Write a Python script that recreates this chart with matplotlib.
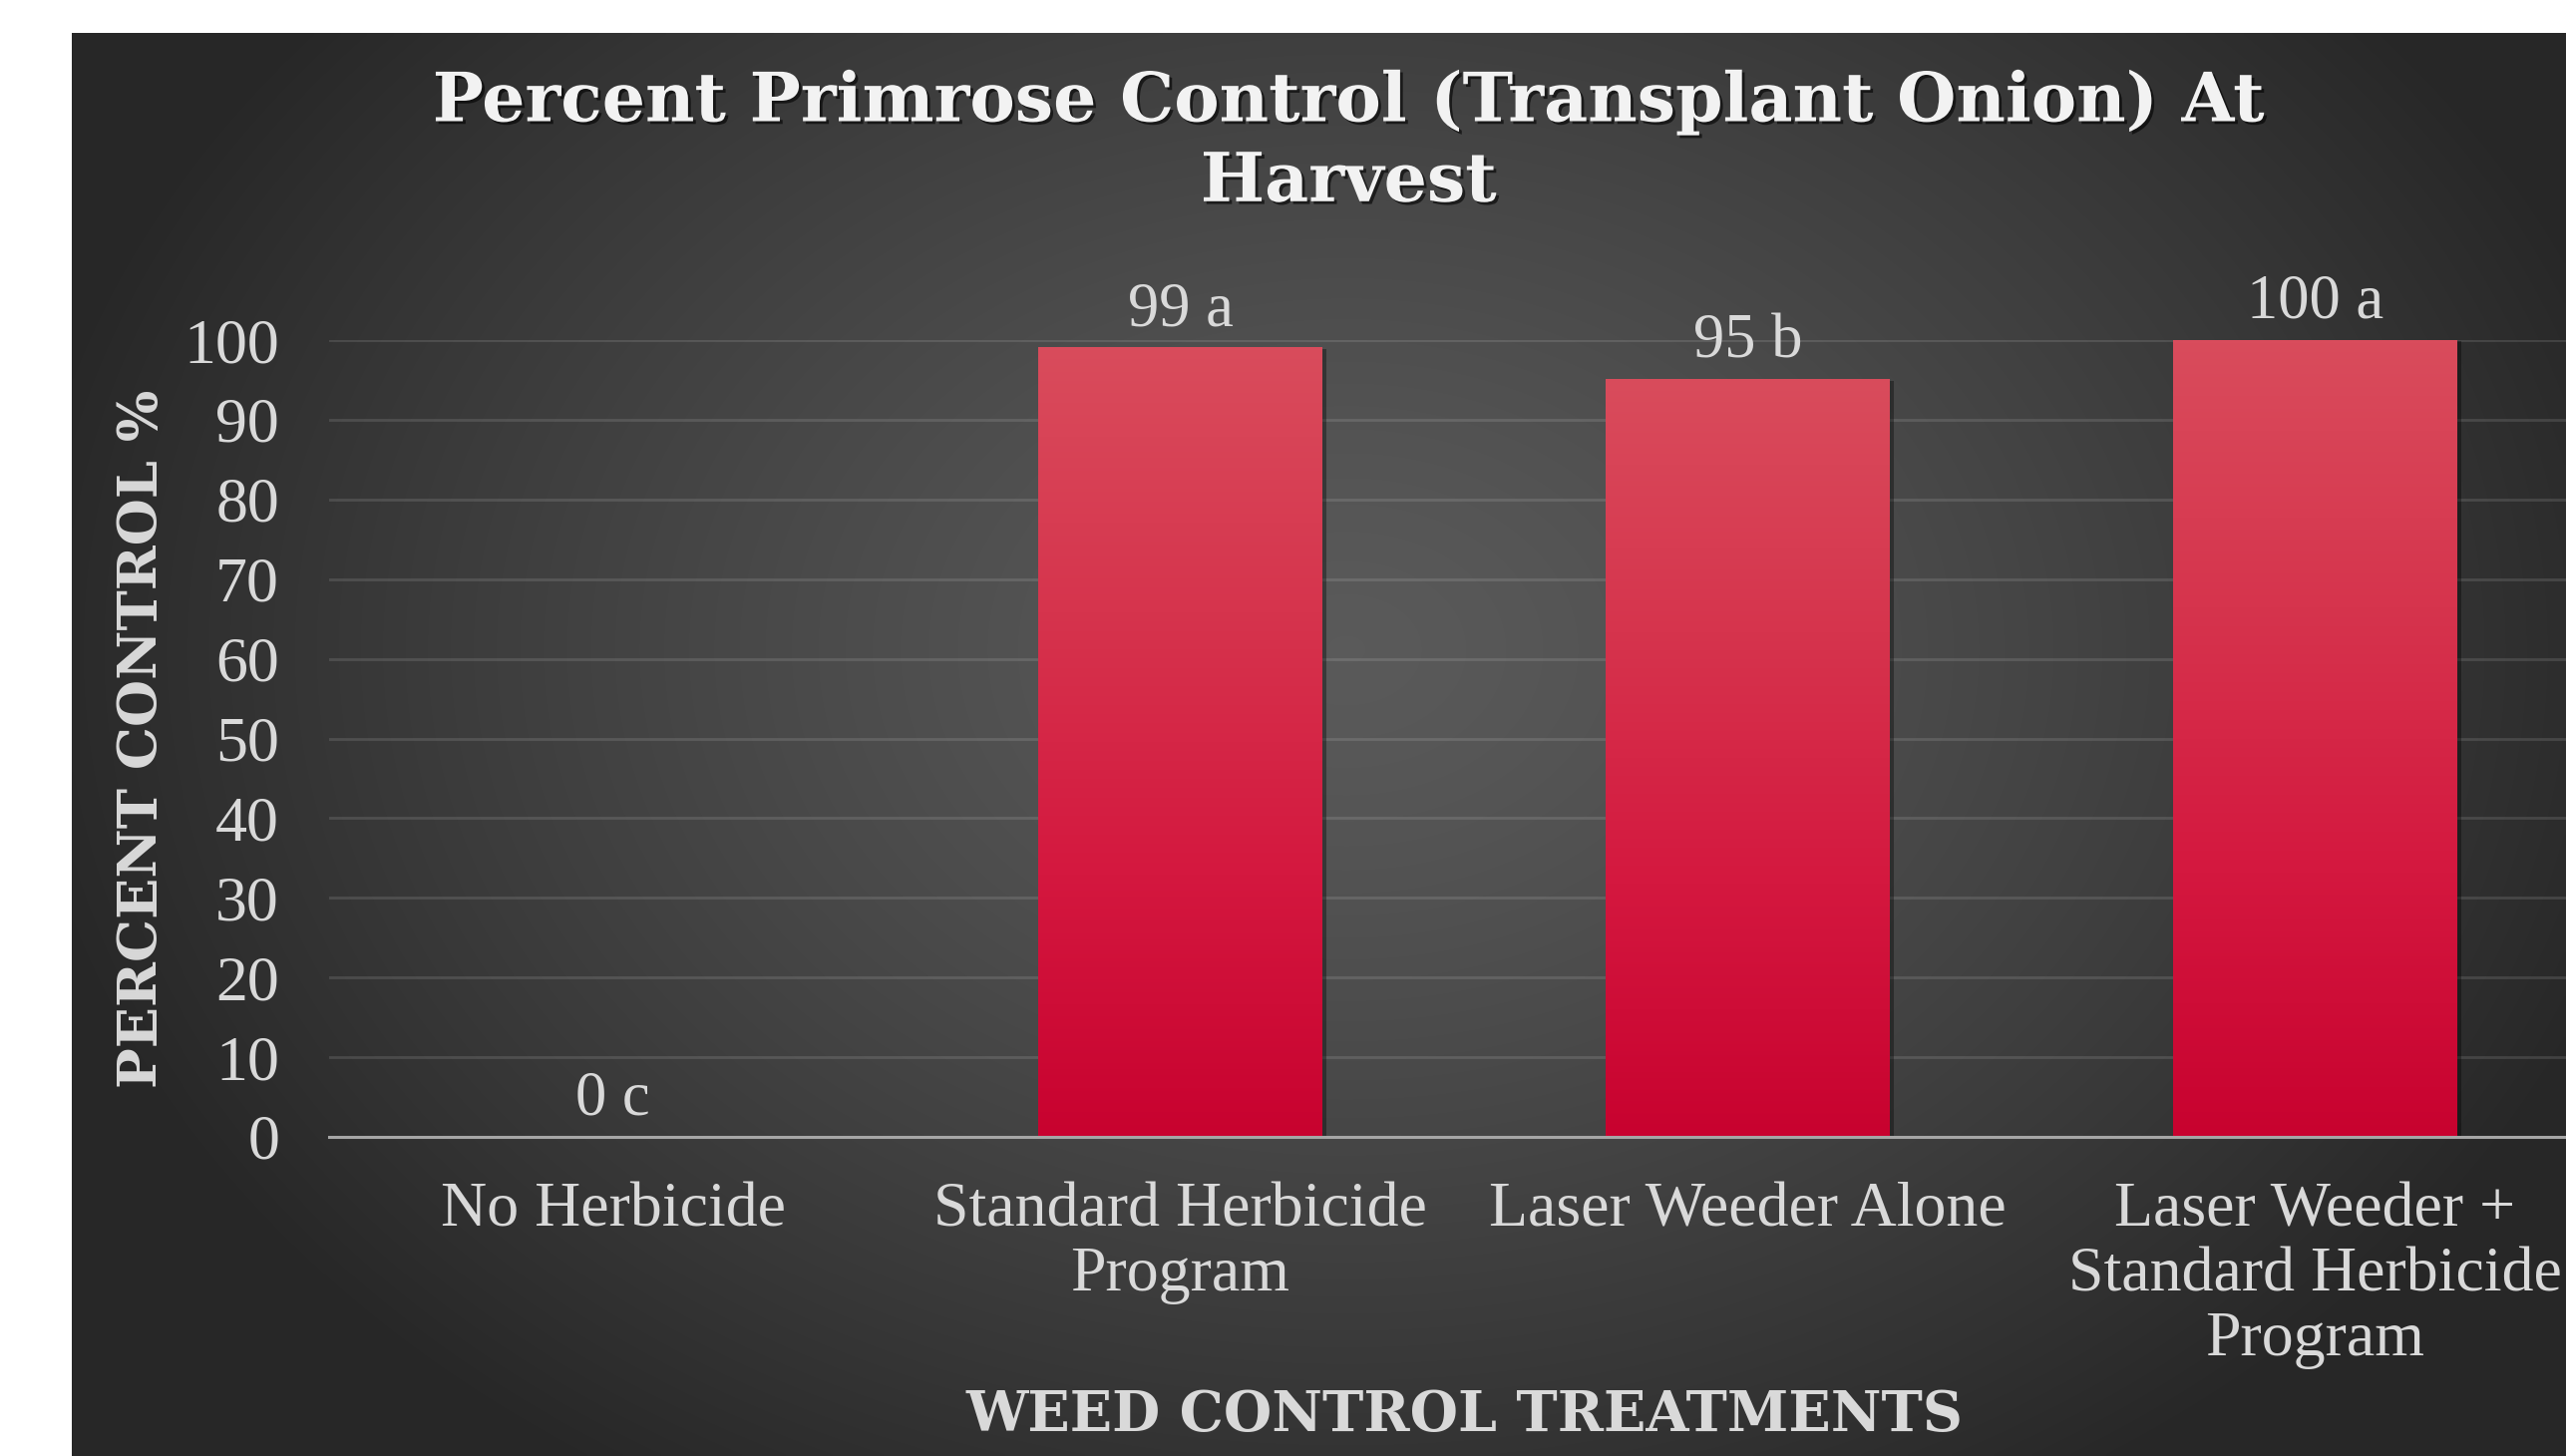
import numpy as np
import matplotlib
matplotlib.use("Agg")
import matplotlib.pyplot as plt
import matplotlib.patheffects as pe
from matplotlib.colors import LinearSegmentedColormap

# data
treatments = ["No Herbicide", "Standard Herbicide\nProgram", "Laser Weeder Alone",
              "Laser Weeder +\nStandard Herbicide\nProgram"]
control_pct = [0, 99, 95, 100]
letters = ["c", "a", "b", "a"]
yticks = list(range(0, 101, 10))

W, H = 2573, 1460
fig = plt.figure(figsize=(W / 100, H / 100), dpi=100, facecolor="white")

# dark chart area with a soft radial gradient
bg = fig.add_axes([72 / W, 0, 1 - 72 / W, 1 - 33 / H], zorder=-5)
gy, gx = np.mgrid[33:H:4, 72:W:4]
r = np.sqrt(((gx - 1350) / 1350.0) ** 2 + ((gy - 650) / 1000.0) ** 2)
r = np.clip(r, 0, 1) ** 1.3
bg_cmap = LinearSegmentedColormap.from_list("bg", ["#5a5a5a", "#272727"])
bg.imshow(r, cmap=bg_cmap, vmin=0, vmax=1, aspect="auto", interpolation="bilinear")
bg.axis("off")

ax = fig.add_axes([330 / W, 1 - 1140 / H, 2276 / W, 799 / H])
ax.patch.set_alpha(0)

x = np.arange(len(treatments))
bars = ax.bar(x, control_pct, width=0.5, color="#c8002f", zorder=3,
              path_effects=[pe.SimplePatchShadow(offset=(3, -1), shadow_rgbFace="black", alpha=0.35),
                            pe.Normal()])

# vertical gradient on each bar
bar_cmap = LinearSegmentedColormap.from_list("bar", ["#c8022f", "#d4183f", "#d6344d", "#d94c5c"])
grad = np.linspace(0, 1, 256).reshape(-1, 1)
for b in bars:
    if b.get_height() > 0:
        ax.imshow(grad, cmap=bar_cmap, origin="lower", aspect="auto", zorder=4,
                  extent=[b.get_x(), b.get_x() + b.get_width(), 0, b.get_height()])

ax.set_xlim(-0.5, len(treatments) - 0.5)
ax.set_ylim(0, 100)
ax.set_yticks(yticks)
ax.yaxis.grid(True, color="#ffffff", alpha=0.12, linewidth=2)
ax.set_axisbelow(True)
for s in ["top", "right", "left"]:
    ax.spines[s].set_visible(False)
ax.spines["bottom"].set_color("#a6a6a6")
ax.spines["bottom"].set_linewidth(2.2)
ax.spines["bottom"].set_zorder(5)

ax.set_xticks(x)
ax.set_xticklabels(treatments, fontfamily="Liberation Serif", fontsize=46, color="#d9d9d9",
                   linespacing=1.15)
ax.tick_params(axis="x", length=0, pad=33)
ax.tick_params(axis="y", length=0, pad=36, labelsize=46, labelcolor="#d9d9d9")
for t in ax.get_yticklabels():
    t.set_fontfamily("Liberation Serif")

ax.bar_label(bars, labels=[f"{v} {l}" for v, l in zip(control_pct, letters)],
             padding=6, fontsize=45, color="#d9d9d9", fontfamily="Liberation Serif")

ax.set_ylabel("PERCENT CONTROL %", fontfamily="DejaVu Serif", fontweight="bold",
              fontsize=39, color="#d9d9d9", va="center")
ax.yaxis.set_label_coords(-0.0822, 0.5)
ax.set_xlabel("WEED CONTROL TREATMENTS", fontfamily="DejaVu Serif", fontweight="bold",
              fontsize=40, color="#d9d9d9", va="center")
ax.xaxis.set_label_coords(0.5, -0.35)

fig.text(1352 / W, 1 - 143 / H, "Percent Primrose Control (Transplant Onion) At\nHarvest",
         ha="center", va="center", fontfamily="DejaVu Serif", fontweight="bold",
         fontsize=49, color="#f2f2f2", linespacing=1.3,
         path_effects=[pe.SimplePatchShadow(offset=(2, -2), shadow_rgbFace="black", alpha=0.6),
                       pe.Normal()])

fig.savefig("out.png", dpi=100, facecolor="white")
